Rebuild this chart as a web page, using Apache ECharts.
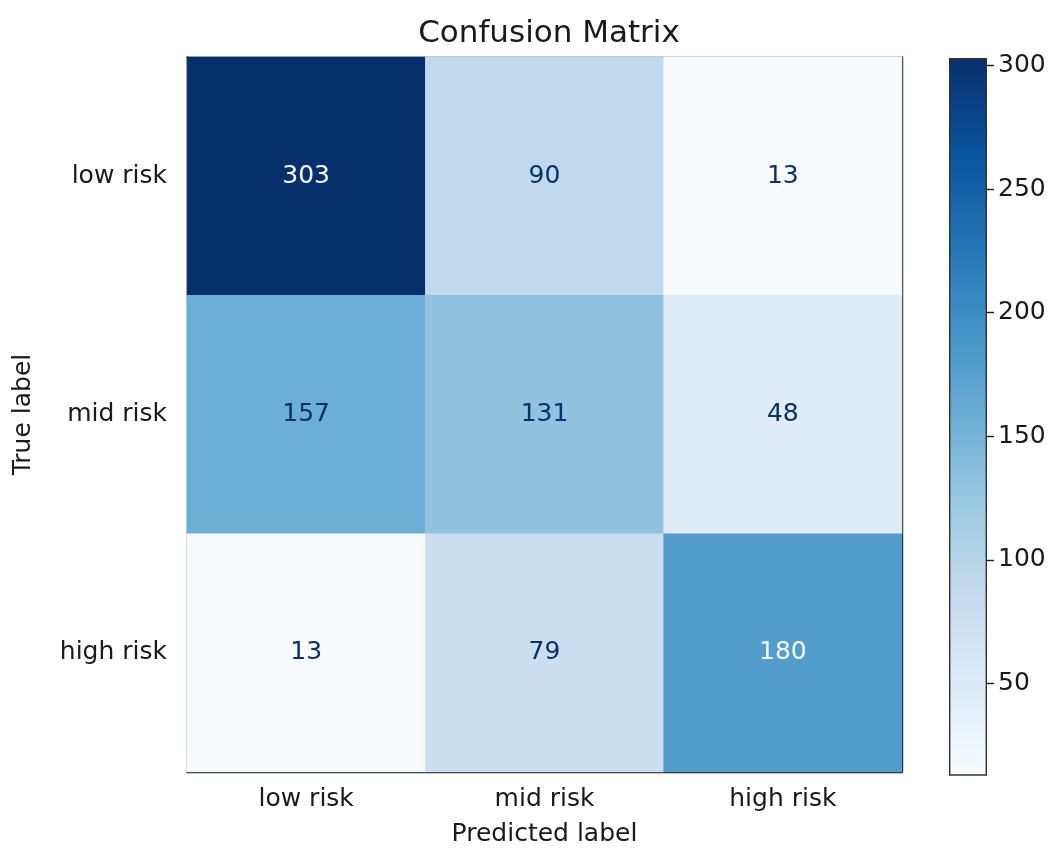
<!DOCTYPE html>
<html>
<head>
<meta charset="utf-8">
<script src="https://cdn.jsdelivr.net/npm/echarts@6/dist/echarts.min.js"></script>
<style>
	html, body { margin: 0; padding: 0; background: #fff; }
	#js-cm { width: 1059px; height: 852px; }
</style>
</head>
<body>
<div id="js-cm"></div>
<script>
var labels = ['low risk', 'mid risk', 'high risk'];
// rows = true label, cols = predicted label
var matrix = [
	[303, 90, 13],
	[157, 131, 48],
	[13, 79, 180]
];
var cbarTicks = [50, 100, 150, 200, 250, 300];
var blues = ['#f7fbff', '#deebf7', '#c6dbef', '#9ecae1', '#6baed6', '#4292c6', '#2171b5', '#08519c', '#08306b'];

initCmChart();

function initCmChart(){
	var chart = echarts.init(document.getElementById('js-cm'));
	var flat = [].concat.apply([], matrix);
	var vmin = Math.min.apply(null, flat);
	var vmax = Math.max.apply(null, flat);
	var thresh = (vmin + vmax) / 2;

	var data = [];
	for (var r = 0; r < matrix.length; r++) {
		for (var c = 0; c < matrix[r].length; c++) {
			var v = matrix[r][c];
			data.push({
				value: [c, r, v],
				label: { color: v > thresh ? blues[0] : blues[8] }
			});
		}
	}

	var stops = blues.map(function(col, i){
		return { offset: 1 - i / (blues.length - 1), color: col };
	});

	var txt = '#1a1a1a';
	var font = 'DejaVu Sans';
	var fs = 25;

	option = {
		textStyle: { fontFamily: font },
		title: {
			text: 'Confusion Matrix',
			left: 544,
			top: 13,
			textAlign: 'center',
			textStyle: { fontFamily: font, fontSize: 31, fontWeight: 'normal', color: txt }
		},
		grid: [
			{ left: 187, top: 57, width: 715, height: 717 },
			{ left: 949, top: 58, width: 38, height: 717 }
		],
		xAxis: [
			{
				type: 'category', data: labels, gridIndex: 0, position: 'bottom',
				name: 'Predicted label', nameLocation: 'middle', nameGap: 50,
				nameTextStyle: { fontSize: fs, color: txt },
				axisLine: { lineStyle: { color: txt, width: 1.4 } },
				axisTick: { alignWithLabel: true, length: 7, lineStyle: { color: txt, width: 1.4 } },
				axisLabel: { fontSize: fs, color: txt, margin: 15 },
				splitLine: { show: false }
			},
			{
				type: 'category', data: labels, gridIndex: 0, position: 'top',
				axisLine: { lineStyle: { color: txt, width: 1.4 } },
				axisTick: { show: false }, axisLabel: { show: false }
			},
			{
				type: 'category', data: ['c'], gridIndex: 1, show: false
			}
		],
		yAxis: [
			{
				type: 'category', data: labels, gridIndex: 0, inverse: true, position: 'left',
				name: 'True label', nameLocation: 'middle', nameGap: 151,
				nameTextStyle: { fontSize: fs, color: txt },
				axisLine: { lineStyle: { color: txt, width: 1.4 } },
				axisTick: { alignWithLabel: true, length: 7, lineStyle: { color: txt, width: 1.4 } },
				axisLabel: { fontSize: fs, color: txt, margin: 20 },
				splitLine: { show: false }
			},
			{
				type: 'category', data: labels, gridIndex: 0, inverse: true, position: 'right',
				axisLine: { lineStyle: { color: txt, width: 1.4 } },
				axisTick: { show: false }, axisLabel: { show: false }
			},
			{
				type: 'value', gridIndex: 1, position: 'right', min: vmin, max: vmax,
				axisLine: { show: false },
				axisTick: { show: true, length: 7, customValues: cbarTicks, lineStyle: { color: txt, width: 1.4 } },
				axisLabel: { fontSize: fs, color: txt, margin: 11, customValues: cbarTicks },
				splitLine: { show: false }
			}
		],
		visualMap: {
			show: false,
			min: vmin,
			max: vmax,
			seriesIndex: 0,
			dimension: 2,
			inRange: { color: blues }
		},
		series: [
			{
				name: 'Confusion Matrix',
				type: 'heatmap',
				xAxisIndex: 0,
				yAxisIndex: 0,
				data: data,
				label: { show: true, fontSize: fs, fontFamily: font },
				emphasis: { disabled: true }
			},
			{
				type: 'bar',
				xAxisIndex: 2,
				yAxisIndex: 2,
				barWidth: '100%',
				data: [vmax],
				silent: true,
				itemStyle: {
					color: new echarts.graphic.LinearGradient(0, 0, 0, 1, stops),
					borderColor: '#333',
					borderWidth: 1.4
				}
			}
		]
	};
	chart.setOption(option);
}
</script>
</body>
</html>
